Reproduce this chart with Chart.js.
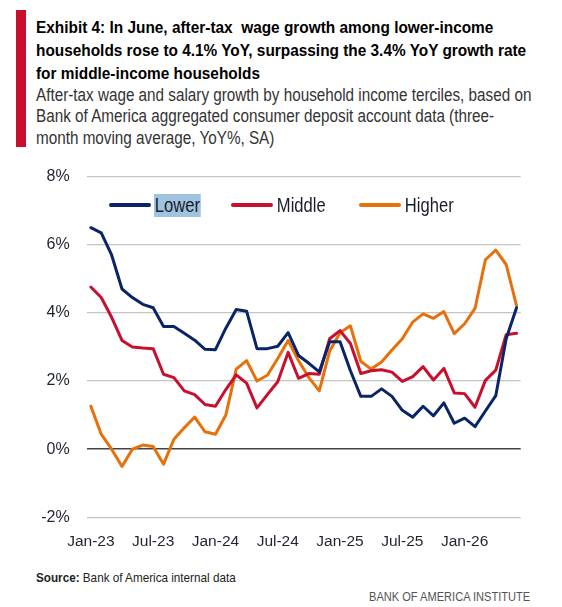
<!DOCTYPE html>
<html>
<head>
<meta charset="utf-8">
<script src="https://cdn.jsdelivr.net/npm/chart.js@4.4.1/dist/chart.umd.min.js"></script>
<style>
    html, body { margin: 0; padding: 0; background: #fff; }
    #page { position: relative; width: 562px; height: 607px; overflow: hidden;
            font-family: 'Liberation Sans', Arial, sans-serif; }
    /* no narrow face installed, so condensed text is faked with scaleX */
    .narrow { transform-origin: 0 0; white-space: nowrap; }
    #bar { position: absolute; left: 16px; top: 10px; width: 10px; height: 137px; background: #c8102e; }
    #title { position: absolute; left: 36px; top: 16px; font-size: 17px; line-height: 23px;
             font-weight: bold; color: #000; transform: scaleX(0.905); }
    #subtitle { position: absolute; left: 36px; top: 85px; font-size: 17.5px; line-height: 21.3px;
                color: #333; transform: scaleX(0.872); }
    #chart { position: absolute; left: 0; top: 150px; }
    #legend { position: absolute; left: 0; top: 193px; height: 25px; }
    .item { position: absolute; top: 0; height: 25px; }
    .swatch { position: absolute; top: 10px; height: 4px; width: 42px; border-radius: 2px; }
    .lbl { position: absolute; left: 45px; top: 1px; font-size: 19.5px; line-height: 23px; color: #1b1b2b;
           padding: 0 1px; transform: scaleX(0.85); }
    #source { position: absolute; left: 36px; top: 570px; font-size: 13px; color: #222; transform: scaleX(0.9); }
    #brand { position: absolute; left: 369px; top: 589px; font-size: 13.2px; color: #555; transform: scaleX(0.84); }
</style>
</head>
<body>
<div id="page">
    <div id="bar"></div>
    <div id="title" class="narrow">Exhibit 4: In June, after-tax&nbsp; wage growth among lower-income<br>households rose to 4.1% YoY, surpassing the 3.4% YoY growth rate<br>for middle-income households</div>
    <div id="subtitle" class="narrow">After-tax wage and salary growth by household income terciles, based on<br>Bank of America aggregated consumer deposit account data (three-<br>month moving average, YoY%, SA)</div>
    <canvas id="chart" width="562" height="420"></canvas>
    <div id="legend"></div>
    <div id="source" class="narrow"><b>Source:</b> Bank of America internal data</div>
    <div id="brand" class="narrow">BANK OF AMERICA INSTITUTE</div>
</div>

<script>
// Data
// ------------------------------

var months = [
    'Jan-23', 'Feb-23', 'Mar-23', 'Apr-23', 'May-23', 'Jun-23', 'Jul-23', 'Aug-23', 'Sep-23', 'Oct-23', 'Nov-23', 'Dec-23',
    'Jan-24', 'Feb-24', 'Mar-24', 'Apr-24', 'May-24', 'Jun-24', 'Jul-24', 'Aug-24', 'Sep-24', 'Oct-24', 'Nov-24', 'Dec-24',
    'Jan-25', 'Feb-25', 'Mar-25', 'Apr-25', 'May-25', 'Jun-25', 'Jul-25', 'Aug-25', 'Sep-25', 'Oct-25', 'Nov-25', 'Dec-25',
    'Jan-26', 'Feb-26', 'Mar-26', 'Apr-26', 'May-26', 'Jun-26'
];

var xTickLabels = ['Jan-23', 'Jul-23', 'Jan-24', 'Jul-24', 'Jan-25', 'Jul-25', 'Jan-26'];
var yTickValues = [-2, 0, 2, 4, 6, 8];

var lower = [
    6.5, 6.35, 5.7, 4.7, 4.45, 4.25, 4.15, 3.6, 3.6, 3.4, 3.2, 2.93,
    2.92, 3.55, 4.1, 4.05, 2.95, 2.95, 3.02, 3.42, 2.75, 2.52, 2.27, 3.15,
    3.15, 2.3, 1.55, 1.55, 1.77, 1.55, 1.14, 0.94, 1.26, 0.98, 1.36, 0.76,
    0.91, 0.66, 1.12, 1.57, 3.24, 4.15
];

var middle = [
    4.76, 4.45, 3.87, 3.19, 3.0, 2.97, 2.95, 2.2, 2.1, 1.71, 1.6, 1.31,
    1.26, 1.75, 2.18, 1.94, 1.21, 1.6, 1.98, 2.84, 2.08, 2.22, 2.2, 3.24,
    3.48, 3.1, 2.22, 2.3, 2.33, 2.26, 1.99, 2.13, 2.42, 2.03, 2.37, 1.65,
    1.63, 1.23, 2.02, 2.32, 3.36, 3.4
];

var higher = [
    1.26, 0.44, 0.0, -0.51, 0.0, 0.12, 0.08, -0.44, 0.29, 0.63, 0.94, 0.51,
    0.44, 1.0, 2.35, 2.6, 2.0, 2.17, 2.66, 3.19, 2.6, 2.1, 1.71, 2.88,
    3.42, 3.62, 2.58, 2.35, 2.56, 2.91, 3.24, 3.73, 3.97, 3.84, 4.04, 3.39,
    3.68, 4.13, 5.56, 5.84, 5.42, 4.21
];

var seriesNames = ['Lower', 'Middle', 'Higher'];
var seriesColors = ['#0a2468', '#c8102e', '#e8700a'];

// Layout (legend placement, px)
var legendLeft = [109, 231, 359];

// Chart setup
// ------------------------------

Chart.defaults.font.family = "'Liberation Sans', Arial, sans-serif";
Chart.defaults.color = '#1f2430';

function toPoints(arr) {
    return arr.map(function (v, i) { return { x: i, y: v }; });
}

var seriesData = [lower, middle, higher];

var chart = new Chart(document.getElementById('chart'), {
    type: 'line',
    data: {
        datasets: seriesData.map(function (arr, k) {
            return {
                label: seriesNames[k],
                data: toPoints(arr),
                borderColor: seriesColors[k],
                backgroundColor: seriesColors[k],
                borderWidth: 3,
                pointRadius: 0,
                tension: 0,
                borderJoinStyle: 'round',
                borderCapStyle: 'round'
            };
        })
    },
    options: {
        responsive: false,
        animation: false,
        layout: { padding: { top: 23.3, right: 41.3, left: 0, bottom: 0 } },
        plugins: {
            legend: { display: false },
            tooltip: { enabled: false }
        },
        scales: {
            x: {
                type: 'linear',
                min: -0.4,
                max: 41.4,
                grid: { display: false },
                border: { display: false },
                afterBuildTicks: function (scale) {
                    scale.ticks = xTickLabels.map(function (l) {
                        return { value: months.indexOf(l) };
                    });
                },
                afterFit: function (scale) { scale.height = 52.7; },
                ticks: {
                    autoSkip: false,
                    maxRotation: 0,
                    padding: 7,
                    font: { size: 15.5 },
                    callback: function (value) { return months[value]; }
                }
            },
            y: {
                min: -2,
                max: 8,
                border: { display: false },
                grid: {
                    drawTicks: false,
                    color: function (ctx) { return ctx.tick && ctx.tick.value === 0 ? '#444' : '#c4c4c4'; },
                    lineWidth: function (ctx) { return ctx.tick && ctx.tick.value === 0 ? 1.6 : 1.3; }
                },
                afterBuildTicks: function (scale) {
                    scale.ticks = yTickValues.map(function (v) { return { value: v }; });
                },
                afterFit: function (scale) { scale.width = 86.7; },
                ticks: {
                    padding: 17,
                    font: { size: 16 },
                    callback: function (value) { return value + '%'; }
                }
            }
        }
    }
});

// Legend (html so that the first label can keep its highlight)
// ------------------------------

var legend = document.getElementById('legend');
seriesNames.forEach(function (name, k) {
    var item = document.createElement('div');
    item.className = 'item';
    item.style.left = legendLeft[k] + 'px';
    var sw = document.createElement('div');
    sw.className = 'swatch';
    sw.style.background = seriesColors[k];
    var lb = document.createElement('div');
    lb.className = 'lbl narrow';
    lb.textContent = name;
    if (k === 0) lb.style.background = '#9fc4df';
    item.appendChild(sw);
    item.appendChild(lb);
    legend.appendChild(item);
});
</script>
</body>
</html>
